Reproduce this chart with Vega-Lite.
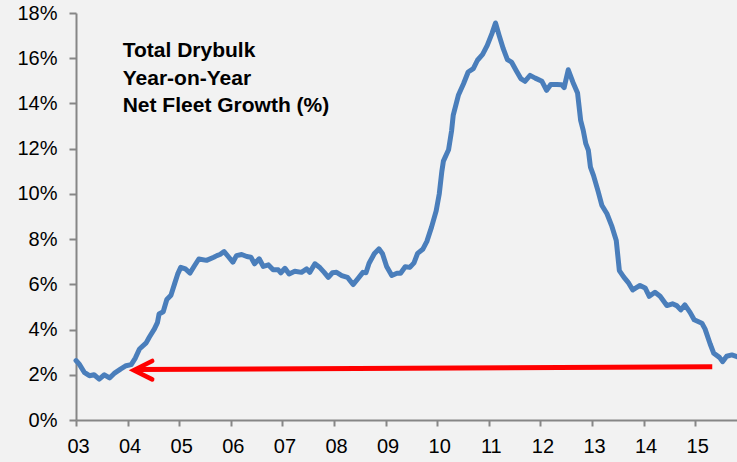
{
  "$schema": "https://vega.github.io/schema/vega-lite/v6.json",
  "width": 661,
  "height": 407,
  "autosize": {"type": "none"},
  "padding": {"left": 76, "top": 13, "right": 0, "bottom": 42},
  "background": "#f2f2f2",
  "config": {
    "view": {"stroke": null},
    "font": "Liberation Sans",
    "axis": {
      "domainColor": "#868686",
      "domainWidth": 2,
      "tickColor": "#868686",
      "tickWidth": 2,
      "labelFont": "Liberation Sans",
      "labelFontSize": 20,
      "labelColor": "#000000",
      "grid": false,
      "title": null
    }
  },
  "layer": [
    {
      "data": {
        "values": [
          {"t": 2003.00, "v": 2.63}, {"t": 2003.06, "v": 2.48}, {"t": 2003.16, "v": 2.11}, {"t": 2003.26, "v": 1.96},
          {"t": 2003.35, "v": 2.00}, {"t": 2003.45, "v": 1.81}, {"t": 2003.55, "v": 2.00}, {"t": 2003.65, "v": 1.86},
          {"t": 2003.74, "v": 2.06}, {"t": 2003.87, "v": 2.26}, {"t": 2003.97, "v": 2.40}, {"t": 2004.07, "v": 2.45},
          {"t": 2004.15, "v": 2.74}, {"t": 2004.23, "v": 3.14}, {"t": 2004.36, "v": 3.41}, {"t": 2004.42, "v": 3.66},
          {"t": 2004.52, "v": 4.03}, {"t": 2004.58, "v": 4.32}, {"t": 2004.61, "v": 4.69}, {"t": 2004.69, "v": 4.79},
          {"t": 2004.76, "v": 5.33}, {"t": 2004.84, "v": 5.52}, {"t": 2004.91, "v": 6.02}, {"t": 2004.97, "v": 6.45},
          {"t": 2005.03, "v": 6.75}, {"t": 2005.12, "v": 6.68}, {"t": 2005.21, "v": 6.50}, {"t": 2005.29, "v": 6.80},
          {"t": 2005.38, "v": 7.12}, {"t": 2005.53, "v": 7.06}, {"t": 2005.67, "v": 7.20}, {"t": 2005.73, "v": 7.27},
          {"t": 2005.79, "v": 7.32}, {"t": 2005.87, "v": 7.45}, {"t": 2005.95, "v": 7.23}, {"t": 2006.04, "v": 6.98},
          {"t": 2006.11, "v": 7.27}, {"t": 2006.21, "v": 7.32}, {"t": 2006.31, "v": 7.23}, {"t": 2006.39, "v": 7.20},
          {"t": 2006.46, "v": 6.91}, {"t": 2006.55, "v": 7.13}, {"t": 2006.63, "v": 6.79}, {"t": 2006.73, "v": 6.86},
          {"t": 2006.82, "v": 6.65}, {"t": 2006.92, "v": 6.64}, {"t": 2006.97, "v": 6.51}, {"t": 2007.05, "v": 6.71},
          {"t": 2007.13, "v": 6.46}, {"t": 2007.24, "v": 6.58}, {"t": 2007.37, "v": 6.53}, {"t": 2007.47, "v": 6.68},
          {"t": 2007.53, "v": 6.53}, {"t": 2007.63, "v": 6.91}, {"t": 2007.73, "v": 6.73}, {"t": 2007.81, "v": 6.53},
          {"t": 2007.89, "v": 6.31}, {"t": 2007.97, "v": 6.51}, {"t": 2008.05, "v": 6.53}, {"t": 2008.15, "v": 6.39},
          {"t": 2008.26, "v": 6.31}, {"t": 2008.37, "v": 5.99}, {"t": 2008.46, "v": 6.24}, {"t": 2008.56, "v": 6.53},
          {"t": 2008.62, "v": 6.51}, {"t": 2008.68, "v": 6.93}, {"t": 2008.78, "v": 7.35}, {"t": 2008.87, "v": 7.57},
          {"t": 2008.94, "v": 7.35}, {"t": 2009.02, "v": 6.79}, {"t": 2009.12, "v": 6.39}, {"t": 2009.22, "v": 6.49},
          {"t": 2009.29, "v": 6.49}, {"t": 2009.38, "v": 6.78}, {"t": 2009.47, "v": 6.75}, {"t": 2009.55, "v": 6.95},
          {"t": 2009.62, "v": 7.37}, {"t": 2009.72, "v": 7.55}, {"t": 2009.80, "v": 7.90}, {"t": 2009.89, "v": 8.53},
          {"t": 2009.98, "v": 9.25}, {"t": 2010.04, "v": 10.00}, {"t": 2010.09, "v": 11.00}, {"t": 2010.12, "v": 11.45},
          {"t": 2010.22, "v": 11.95}, {"t": 2010.28, "v": 12.81}, {"t": 2010.31, "v": 13.47}, {"t": 2010.41, "v": 14.36},
          {"t": 2010.51, "v": 14.87}, {"t": 2010.60, "v": 15.39}, {"t": 2010.70, "v": 15.54}, {"t": 2010.78, "v": 15.91},
          {"t": 2010.88, "v": 16.17}, {"t": 2010.97, "v": 16.57}, {"t": 2011.06, "v": 17.09}, {"t": 2011.13, "v": 17.56},
          {"t": 2011.20, "v": 17.01}, {"t": 2011.28, "v": 16.42}, {"t": 2011.36, "v": 15.94}, {"t": 2011.44, "v": 15.83},
          {"t": 2011.53, "v": 15.46}, {"t": 2011.62, "v": 15.10}, {"t": 2011.70, "v": 14.98}, {"t": 2011.80, "v": 15.24},
          {"t": 2011.90, "v": 15.12}, {"t": 2012.03, "v": 14.98}, {"t": 2012.12, "v": 14.58}, {"t": 2012.20, "v": 14.84},
          {"t": 2012.32, "v": 14.84}, {"t": 2012.41, "v": 14.83}, {"t": 2012.46, "v": 14.70}, {"t": 2012.54, "v": 15.49},
          {"t": 2012.63, "v": 14.94}, {"t": 2012.72, "v": 14.46}, {"t": 2012.78, "v": 13.25}, {"t": 2012.83, "v": 12.81},
          {"t": 2012.88, "v": 12.22}, {"t": 2012.93, "v": 11.92}, {"t": 2012.97, "v": 11.18}, {"t": 2013.03, "v": 10.81},
          {"t": 2013.12, "v": 10.10}, {"t": 2013.19, "v": 9.50}, {"t": 2013.29, "v": 9.12}, {"t": 2013.38, "v": 8.60},
          {"t": 2013.47, "v": 7.94}, {"t": 2013.53, "v": 6.61}, {"t": 2013.62, "v": 6.31}, {"t": 2013.70, "v": 6.09},
          {"t": 2013.79, "v": 5.75}, {"t": 2013.93, "v": 5.95}, {"t": 2014.03, "v": 5.84}, {"t": 2014.11, "v": 5.47},
          {"t": 2014.22, "v": 5.65}, {"t": 2014.32, "v": 5.47}, {"t": 2014.45, "v": 5.06}, {"t": 2014.56, "v": 5.14},
          {"t": 2014.64, "v": 5.06}, {"t": 2014.72, "v": 4.87}, {"t": 2014.80, "v": 5.09}, {"t": 2014.90, "v": 4.76},
          {"t": 2014.98, "v": 4.43}, {"t": 2015.13, "v": 4.28}, {"t": 2015.19, "v": 4.03}, {"t": 2015.29, "v": 3.36},
          {"t": 2015.36, "v": 2.95}, {"t": 2015.47, "v": 2.77}, {"t": 2015.53, "v": 2.58}, {"t": 2015.61, "v": 2.82},
          {"t": 2015.71, "v": 2.88}, {"t": 2015.81, "v": 2.80}
        ]
      },
      "mark": {"type": "line", "color": "#4a7ebb", "strokeWidth": 5, "strokeJoin": "round", "strokeCap": "round"},
      "encoding": {
        "x": {
          "field": "t",
          "type": "quantitative",
          "scale": {"domain": [2003, 2015.81], "nice": false, "zero": false},
          "axis": {
            "values": [2003, 2004, 2005, 2006, 2007, 2008, 2009, 2010, 2011, 2012, 2013, 2014, 2015],
            "labelExpr": "substring(toString(datum.value), 2, 4)",
            "tickSize": 6,
            "labelPadding": 10,
            "labelOffset": 2,
            "labelFlush": false,
            "labelOverlap": false
          }
        },
        "y": {
          "field": "v",
          "type": "quantitative",
          "scale": {"domain": [0, 18], "nice": false},
          "axis": {
            "values": [0, 2, 4, 6, 8, 10, 12, 14, 16, 18],
            "labelExpr": "datum.value + '%'",
            "tickSize": 7,
            "labelPadding": 12,
            "labelFlush": false,
            "labelOverlap": false
          }
        }
      }
    },
    {
      "data": {"values": [{}]},
      "mark": {"type": "rule", "color": "#ff0000", "strokeWidth": 5, "strokeCap": "butt"},
      "encoding": {
        "x": {"datum": 2004.163},
        "y": {"datum": 2.23},
        "x2": {"datum": 2015.33},
        "y2": {"datum": 2.35}
      }
    },
    {
      "data": {"values": [{}]},
      "mark": {
        "type": "point",
        "shape": "M1,-1L-1,0L1,1",
        "size": 340,
        "filled": false,
        "color": "#ff0000",
        "strokeWidth": 4.5,
        "strokeCap": "round",
        "strokeJoin": "miter",
        "opacity": 1
      },
      "encoding": {
        "x": {"datum": 2004.298},
        "y": {"datum": 2.204}
      }
    },
    {
      "data": {"values": [{}]},
      "mark": {
        "type": "text",
        "text": ["Total Drybulk", "Year-on-Year", "Net Fleet Growth (%)"],
        "align": "left",
        "baseline": "alphabetic",
        "font": "Liberation Sans",
        "fontSize": 21,
        "fontWeight": "bold",
        "lineHeight": 27.5,
        "color": "#000000"
      },
      "encoding": {
        "x": {"datum": 2003.905},
        "y": {"datum": 16.05}
      }
    }
  ]
}
